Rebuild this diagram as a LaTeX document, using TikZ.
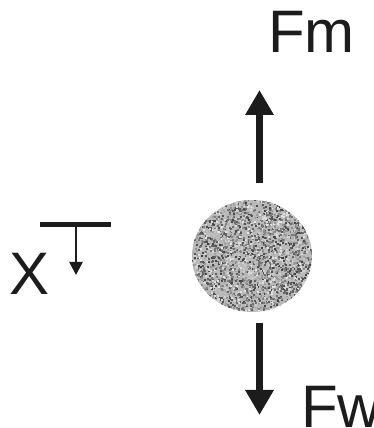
\documentclass[tikz,border=0pt]{standalone}
\usepackage{fontspec}
\setmainfont{Liberation Sans}
\usepackage{tikz}
\usetikzlibrary{arrows.meta}
\usetikzlibrary{shapes.geometric}
\usepackage{xcolor}
\definecolor{ink}{HTML}{1C1C1C}

\begin{document}
\begin{tikzpicture}[
  x=1pt, y=1pt,
  ball/.style={ellipse, minimum width=120pt, minimum height=112pt,
    inner sep=0pt, fill=gray!55},
  force/.style={-{Triangle[length=25pt, width=27pt]}, line width=7pt, draw=ink},
  small/.style={-{Triangle[length=13pt, width=13pt]}, line width=2.5pt, draw=ink},
  bar/.style={line width=5pt, draw=ink},
  forcetext/.style={font=\fontsize{60}{72}\selectfont, text=ink,
    inner sep=0pt, anchor=base west},
]
\useasboundingbox (0,0) rectangle (373,428);

% === Ball with grainy texture ===
\node[ball] (ball) at (252,172) {};
\begin{scope}
  \clip (ball.center) ellipse [x radius=60pt, y radius=56pt];
  \pgfmathsetseed{7}
  \foreach \i in {1,...,3200}{
    \pgfmathsetmacro\gx{252+60*rand}
    \pgfmathsetmacro\gy{172+56*rand}
    \pgfmathtruncatemacro\shade{10+65*rnd}
    \fill[black!\shade] (\gx,\gy) rectangle ++(2,2);
  }
\end{scope}

% === Labels ===
\node[forcetext] (fm) at (268,375) {Fm};
\node[forcetext] (fw) at (301,0) {Fw};
\node[forcetext] (xlab) at (9,133) {X};

% === Force arrows ===
\coordinate (fm tip) at (259.5,338);
\coordinate (fw tip) at (259.5,13);
\draw[force] ([xshift=7.5pt, yshift=17pt]ball.north) -- (fm tip);
\draw[force] ([xshift=7.5pt, yshift=-11pt]ball.south) -- (fw tip);

% === Direction of x ===
\coordinate (bar west) at (40,203);
\coordinate (bar east) at (111,203);
\coordinate (bar mid) at (76,203);
\coordinate (x tip) at (76,153);
\draw[bar] (bar west) -- (bar east);
\draw[small] (bar mid) -- (x tip);

\end{tikzpicture}
\end{document}
